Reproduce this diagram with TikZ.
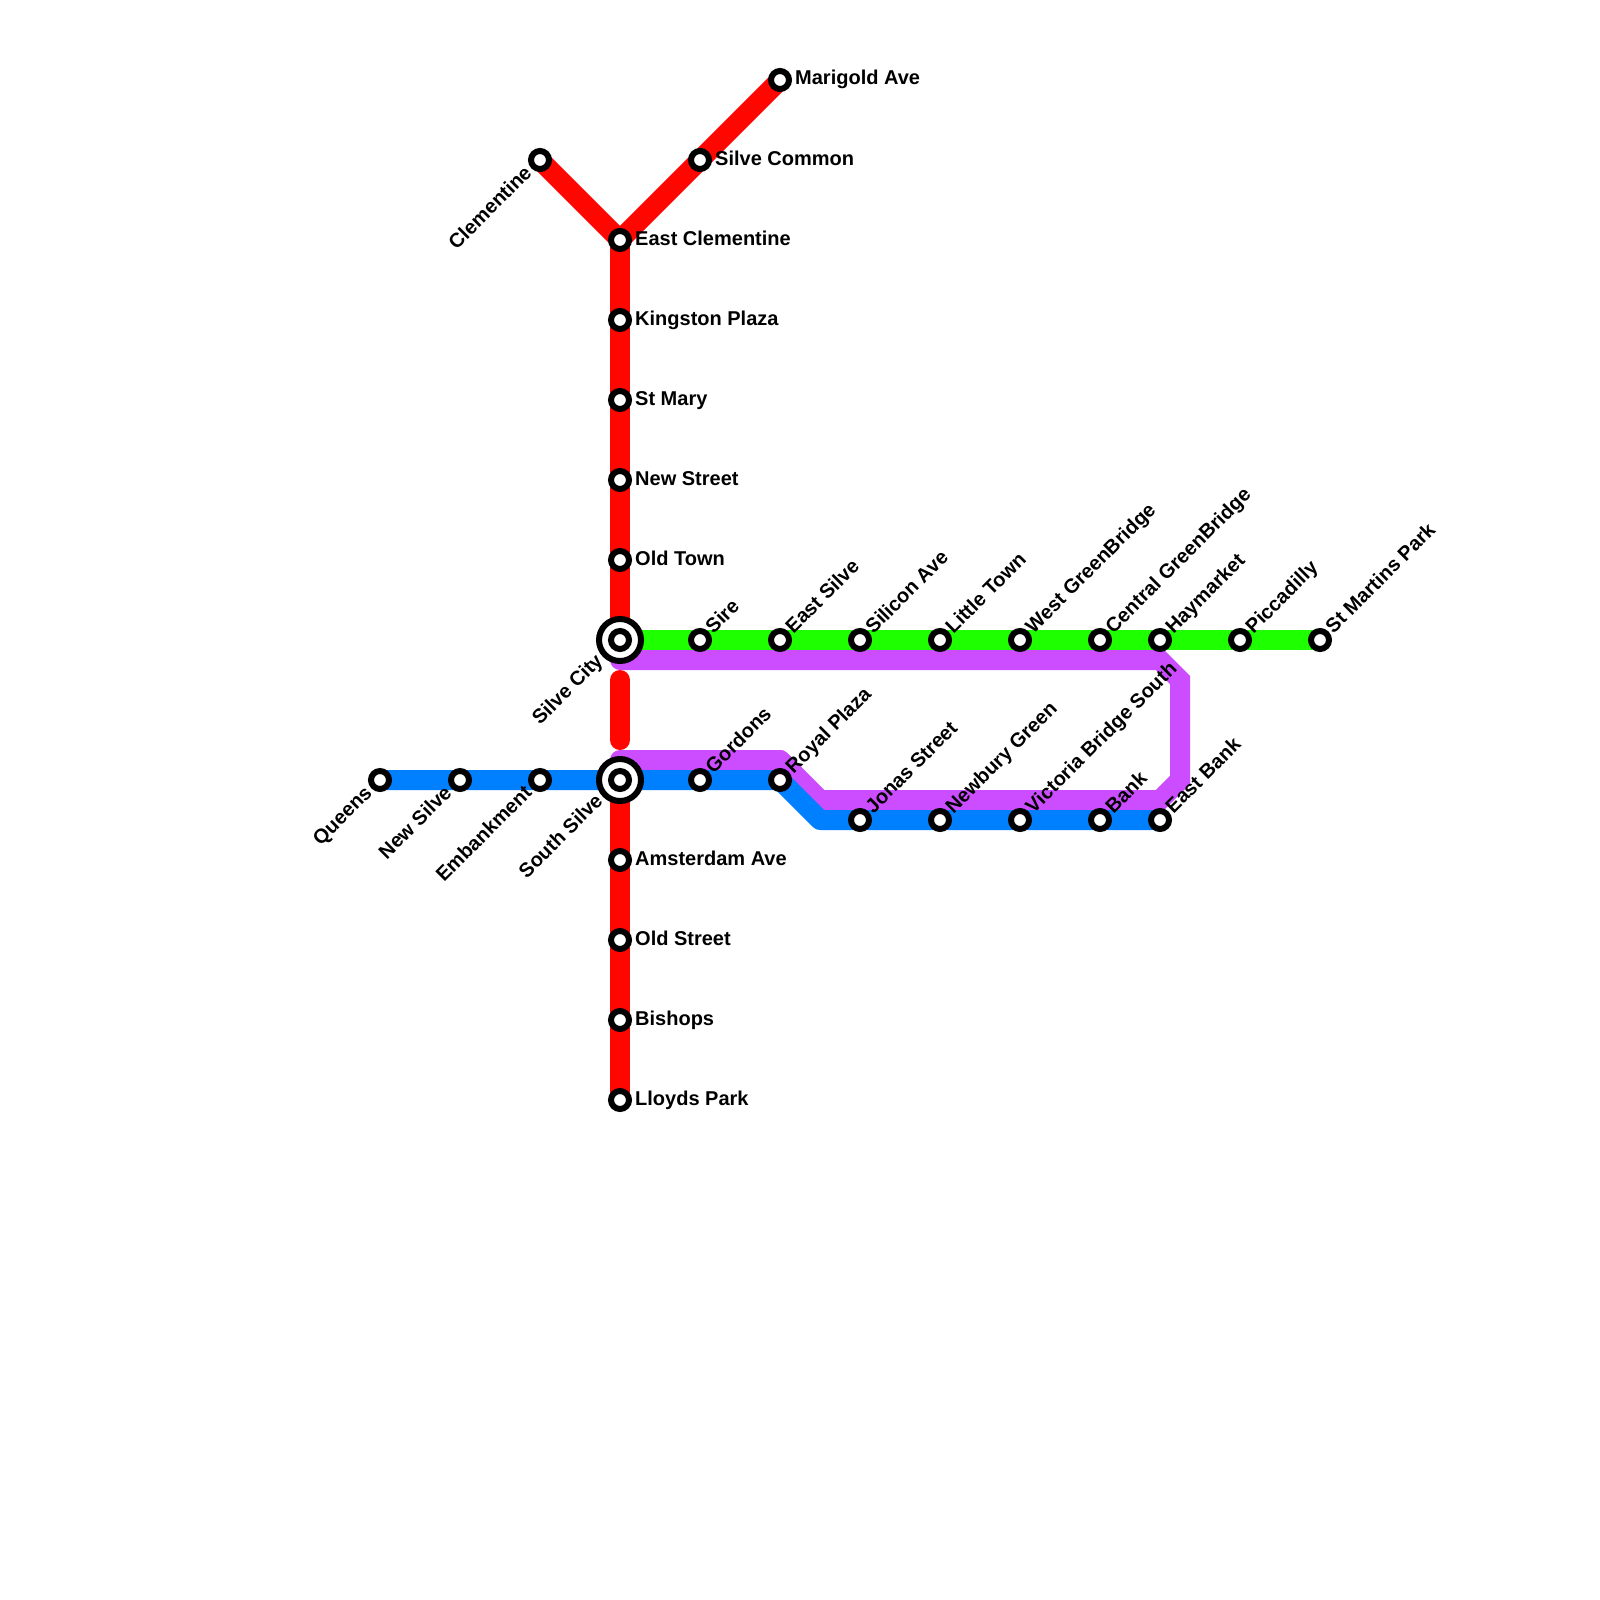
\documentclass[tikz,border=0pt]{standalone}
\usepackage{fontspec}
\setmainfont{Liberation Sans}
\definecolor{lred}{HTML}{FF0600}
\definecolor{lgreen}{HTML}{1EFF00}
\definecolor{lblue}{HTML}{007FFF}
\definecolor{lpurple}{HTML}{CC4DFF}
\tikzset{
  x=1pt,y=-1pt,
  lineseg/.style={line width=20pt,line cap=butt,line join=round},
  stn/.style={circle,draw=black,fill=white,line width=6pt,minimum size=18pt,inner sep=0pt},
  hub/.style={circle,draw=black,fill=white,line width=6pt,minimum size=42pt,inner sep=0pt},
  hubin/.style={circle,draw=black,fill=white,line width=6pt,minimum size=18pt,inner sep=0pt},
  lab/.style={font=\bfseries\fontsize{20}{22}\selectfont,inner sep=0pt,text=black},
  rlab/.style={lab,anchor=base west,xshift=15pt,yshift=-5pt},
  ulab/.style={lab,anchor=base west,xshift=13.5pt,yshift=5.5pt,rotate=45},
  dlab/.style={lab,anchor=base east,xshift=-7pt,yshift=-14pt,rotate=45},
  hlab/.style={lab,anchor=base east,xshift=-16pt,yshift=-22pt,rotate=45},
}
\begin{document}
\begin{tikzpicture}
\useasboundingbox (0,0) rectangle (1600,1600);
% stations
\coordinate (qu) at (380,780);
\coordinate (ns) at (460,780);
\coordinate (em) at (540,780);
\coordinate (ss) at (620,780);
\coordinate (go) at (700,780);
\coordinate (rp) at (780,780);
\coordinate (jo) at (860,820);
\coordinate (ne) at (940,820);
\coordinate (vi) at (1020,820);
\coordinate (ba) at (1100,820);
\coordinate (eb) at (1160,820);
\coordinate (sc) at (620,640);
\coordinate (si) at (700,640);
\coordinate (es) at (780,640);
\coordinate (sl) at (860,640);
\coordinate (li) at (940,640);
\coordinate (we) at (1020,640);
\coordinate (ce) at (1100,640);
\coordinate (ha) at (1160,640);
\coordinate (pi) at (1240,640);
\coordinate (sm) at (1320,640);
\coordinate (ma) at (780,80);
\coordinate (co) at (700,160);
\coordinate (ec) at (620,240);
\coordinate (cl) at (540,160);
\coordinate (ki) at (620,320);
\coordinate (sy) at (620,400);
\coordinate (nw) at (620,480);
\coordinate (ot) at (620,560);
\coordinate (am) at (620,860);
\coordinate (os) at (620,940);
\coordinate (bi) at (620,1020);
\coordinate (ll) at (620,1100);
% bends
\coordinate (b1) at (820,820);
\coordinate (p0) at (620,660);
\coordinate (p1) at (1160,660);
\coordinate (p2) at (1180,680);
\coordinate (p3) at (1180,780);
\coordinate (p4) at (1160,800);
\coordinate (p5) at (820,800);
\coordinate (p6) at (780,760);
\coordinate (p7) at (620,760);
\coordinate (r1) at (620,680);
\coordinate (r2) at (620,740);
% lines
\draw[lineseg,lred,line join=miter] (cl) -- (ec) -- (ma);
\draw[lineseg,lred] (ec) -- (sc);
\draw[lineseg,lred] (ss) -- (ll);
\draw[lineseg,lred,line cap=round] (r1) -- (r2);
\draw[lineseg,lgreen] (sc) -- (sm);
\draw[lineseg,lpurple,line cap=round] (p7) -- (p6) -- (p5);
\draw[lineseg,lpurple,line join=miter,line cap=round] (p6) -- (p5) -- (p4) -- (p3) -- (p2) -- (p1) -- (p0);
\draw[lineseg,lblue] (qu) -- (rp) -- (b1) -- (eb);
% stations
\foreach \n in {qu,ns,em,go,rp,jo,ne,vi,ba,eb,si,es,sl,li,we,ce,ha,pi,sm,ma,co,ec,cl,ki,sy,nw,ot,am,os,bi,ll}
  \node[stn] (s\n) at (\n) {};
\foreach \n in {sc,ss}{
  \node[hub] (h\n) at (\n) {};
  \node[hubin] (i\n) at (\n) {};
}
% labels
\node[rlab] (l1) at (ma) {Marigold Ave};
\node[rlab] (l2) at (co) {Silve Common};
\node[rlab] (l3) at (ec) {East Clementine};
\node[rlab] (l4) at (ki) {Kingston Plaza};
\node[rlab] (l5) at (sy) {St Mary};
\node[rlab] (l6) at (nw) {New Street};
\node[rlab] (l7) at (ot) {Old Town};
\node[rlab] (l8) at (am) {Amsterdam Ave};
\node[rlab] (l9) at (os) {Old Street};
\node[rlab] (l10) at (bi) {Bishops};
\node[rlab] (l11) at (ll) {Lloyds Park};
\node[dlab] (l12) at (cl) {Clementine};
\node[dlab] (l13) at (qu) {Queens};
\node[dlab] (l14) at (ns) {New Silve};
\node[dlab] (l15) at (em) {Embankment};
\node[hlab] (l16) at (sc) {Silve City};
\node[hlab] (l17) at (ss) {South Silve};
\node[ulab] (l18) at (si) {Sire};
\node[ulab] (l19) at (es) {East Silve};
\node[ulab] (l20) at (sl) {Silicon Ave};
\node[ulab] (l21) at (li) {Little Town};
\node[ulab] (l22) at (we) {West GreenBridge};
\node[ulab] (l23) at (ce) {Central GreenBridge};
\node[ulab] (l24) at (ha) {Haymarket};
\node[ulab] (l25) at (pi) {Piccadilly};
\node[ulab] (l26) at (sm) {St Martins Park};
\node[ulab] (l27) at (go) {Gordons};
\node[ulab] (l28) at (rp) {Royal Plaza};
\node[ulab] (l29) at (jo) {Jonas Street};
\node[ulab] (l30) at (ne) {Newbury Green};
\node[ulab] (l31) at (vi) {Victoria Bridge South};
\node[ulab] (l32) at (ba) {Bank};
\node[ulab] (l33) at (eb) {East Bank};
\end{tikzpicture}
\end{document}
